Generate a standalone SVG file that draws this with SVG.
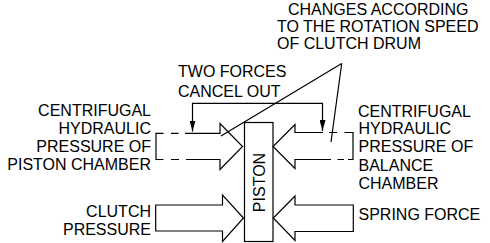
<svg xmlns="http://www.w3.org/2000/svg" width="490" height="243" viewBox="0 0 490 243">
  <style>
    .lbl { font-family: "Liberation Sans", Arial, Helvetica, sans-serif; font-size: 16px; fill: #000; }
    .end { text-anchor: end; }
    .ln { fill: none; stroke: #000; stroke-width: 1.2; stroke-linejoin: miter; }
    .arr { fill: #fff; stroke: #000; stroke-width: 1.2; stroke-linejoin: miter; }
  </style>
  <defs>
    <marker id="tip" viewBox="0 0 11 6" refX="11" refY="3" markerWidth="11" markerHeight="6" markerUnits="userSpaceOnUse" orient="auto-start-reverse">
      <path d="M0,0 L11,3 L0,6 Z" fill="#000"/>
    </marker>
  </defs>
  <rect width="490" height="243" fill="#fff"/>

  <!-- piston -->
  <g id="piston">
    <rect x="244.5" y="122.5" width="28.5" height="119" class="arr"/>
    <text class="lbl" text-anchor="middle" transform="translate(264.5,182.5) rotate(-90)">PISTON</text>
  </g>

  <!-- centrifugal pressure of piston chamber (dashed tail) -->
  <g id="force-piston-chamber">
    <path class="ln" d="M185,133.3 H220 V123.5 L242.5,146.5 L220,169.5 V159.5 H186"/>
    <path class="ln" d="M163.5,133.3 H156 V159.5 H163.5"/>
    <path class="ln" d="M171,133.3 H178.5 M171,159.5 H179"/>
  </g>

  <!-- clutch pressure -->
  <g id="force-clutch">
    <path class="arr" d="M155.7,205 H222.5 V195 L243.5,218 L222.5,241.5 V231 H155.7 Z"/>
  </g>

  <!-- centrifugal pressure of balance chamber (dashed tail) -->
  <g id="force-balance-chamber">
    <path class="ln" d="M323,132.5 H295 V124.5 L273,146.5 L295,168.5 V159.5 H331"/>
    <path class="ln" d="M344.5,132.5 H353 V159.5 H348"/>
    <path class="ln" d="M329,132.5 H337 M337.5,159.5 H344"/>
  </g>

  <!-- spring force -->
  <g id="force-spring">
    <path class="arr" d="M353.3,205 H295 V196 L273.3,218 L295,240.5 V231.5 H353.3 Z"/>
  </g>

  <!-- labels -->
  <g id="label-piston-chamber">
    <text class="lbl end" x="151" y="115.5">CENTRIFUGAL</text>
    <text class="lbl end" x="151" y="134">HYDRAULIC</text>
    <text class="lbl end" x="151" y="152">PRESSURE OF</text>
    <text class="lbl end" x="151" y="170">PISTON CHAMBER</text>
  </g>
  <g id="label-clutch">
    <text class="lbl end" x="151" y="217">CLUTCH</text>
    <text class="lbl end" x="151" y="235">PRESSURE</text>
  </g>
  <g id="label-balance-chamber">
    <text class="lbl" x="358" y="116.5">CENTRIFUGAL</text>
    <text class="lbl" x="358.5" y="134">HYDRAULIC</text>
    <text class="lbl" x="358.5" y="152">PRESSURE OF</text>
    <text class="lbl" x="358.5" y="170.5">BALANCE</text>
    <text class="lbl" x="358.5" y="189">CHAMBER</text>
  </g>
  <g id="label-spring">
    <text class="lbl" x="358.5" y="220">SPRING FORCE</text>
  </g>
  <g id="label-cancel">
    <text class="lbl" x="178" y="76.5">TWO FORCES</text>
    <text class="lbl" x="178" y="96.5">CANCEL OUT</text>
  </g>
  <g id="label-rotation">
    <text class="lbl" x="288" y="15">CHANGES ACCORDING</text>
    <text class="lbl" x="277" y="32">TO THE ROTATION SPEED</text>
    <text class="lbl" x="277" y="49">OF CLUTCH DRUM</text>
  </g>

  <!-- connectors -->
  <g id="connectors">
    <path class="ln" d="M192.5,131.5 V103.3 H322.5 V131" marker-start="url(#tip)" marker-end="url(#tip)"/>
    <path class="ln" d="M341.7,63.5 L221,136"/>
    <path class="ln" d="M341.7,63.5 L331,142"/>
  </g>
</svg>
